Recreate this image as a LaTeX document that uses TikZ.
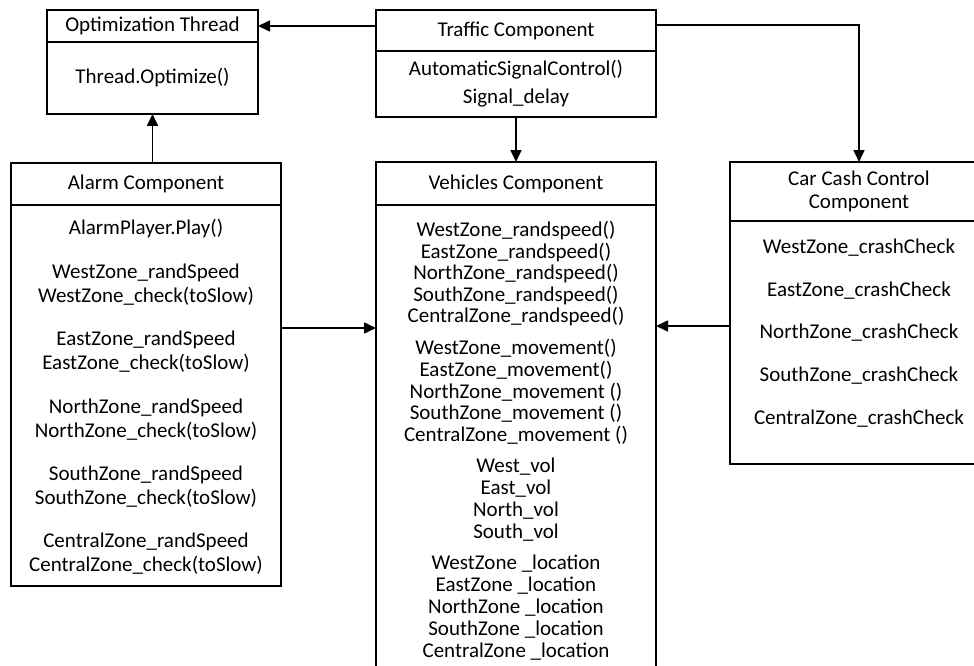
\documentclass[tikz,border=0pt]{standalone}
\usepackage{fontspec}
\setmainfont{Carlito}
\usetikzlibrary{positioning,arrows.meta}

\tikzset{
  box/.style={draw, rectangle, line width=1.5pt, inner sep=0pt, outer sep=0pt, align=center},
  txt/.style={inner sep=0pt, text height=13pt, text depth=0pt},
  arr/.style={line width=1.6pt, -{Triangle[length=12pt,width=11pt]}}
}

\begin{document}
\begin{tikzpicture}
  [x=1pt,y=-1pt,font=\fontsize{21}{24}\selectfont]
  \useasboundingbox (0,0) rectangle (974,666);

  % optimization thread
  \node (opt-h)[box, minimum width=211pt, minimum height=32pt, anchor=north west] at (47,10) {Optimization Thread};
  \node (opt-b)[box, minimum width=211pt, minimum height=72pt, below=0pt of opt-h] {Thread.Optimize()};

  % traffic
  \node (trf-h)[box, minimum width=280pt, minimum height=41pt, anchor=north west] at (376,10) {Traffic Component};
  \node (trf-b)[box, minimum width=280pt, minimum height=66pt, below=0pt of trf-h,
    font=\fontsize{21}{28}\selectfont] {AutomaticSignalControl()\\Signal\_delay};

  % alarm
  \node (alm-h)[box, minimum width=270pt, minimum height=42pt, anchor=north west] at (11,163) {Alarm Component};
  \node (alm-b)[box, minimum width=270pt, minimum height=381pt, below=0pt of alm-h] {};
  \foreach \y/\t [count=\i] in {228/AlarmPlayer.Play(),
      272/WestZone\_randSpeed, 296/WestZone\_check(toSlow),
      339/EastZone\_randSpeed, 363/EastZone\_check(toSlow),
      407/NorthZone\_randSpeed, 431/NorthZone\_check(toSlow),
      474/SouthZone\_randSpeed, 498/SouthZone\_check(toSlow),
      541/CentralZone\_randSpeed, 565/CentralZone\_check(toSlow)}
    \node (alm-\i)[txt] at (146,\y) {\t};

  % vehicles
  \node (veh-h)[box, minimum width=280pt, minimum height=43pt, anchor=north west] at (376,162) {Vehicles Component};
  \node (veh-b)[box, minimum width=280pt, minimum height=500pt, below=0pt of veh-h] {};
  \foreach \y/\t [count=\i] in {230/WestZone\_randspeed(), 251.5/EastZone\_randspeed(),
      273/NorthZone\_randspeed(), 294.5/SouthZone\_randspeed(), 316/CentralZone\_randspeed(),
      348/WestZone\_movement(), 369.5/EastZone\_movement(), 391.5/NorthZone\_movement (),
      413/SouthZone\_movement (), 435/CentralZone\_movement (),
      466/West\_vol, 488/East\_vol, 510/North\_vol, 532/South\_vol,
      563/WestZone \_location, 585/EastZone \_location, 607/NorthZone \_location,
      629/SouthZone \_location, 651/CentralZone \_location}
    \node (veh-\i)[txt] at (516,\y) {\t};

  % car crash control
  \node (crh-h)[box, minimum width=258pt, minimum height=59pt, anchor=north west,
    font=\fontsize{21}{23}\selectfont] at (730,162) {Car Cash Control\\Component};
  \node (crh-b)[box, minimum width=258pt, minimum height=243pt, below=0pt of crh-h] {};
  \foreach \y/\t [count=\i] in {247/WestZone\_crashCheck, 290/EastZone\_crashCheck,
      332/NorthZone\_crashCheck, 375/SouthZone\_crashCheck, 418/CentralZone\_crashCheck}
    \node (crh-\i)[txt] at (859,\y) {\t};

  % connectors
  \draw[arr] (trf-h.west |- opt-h.east) -- (opt-h.east);
  \draw[arr] (trf-b.south) -- (veh-h.north);
  \draw[arr] ([yshift=5.5pt]trf-h.east) -| (crh-h.north);
  \draw[arr] (alm-h.north -| opt-b.south) -- (opt-b.south);
  \draw[arr] ([yshift=67.5pt]alm-b.east) coordinate (a2v) -- (a2v -| veh-b.west);
  \draw[arr] ([yshift=16.5pt]crh-b.west) coordinate (c2v) -- (c2v -| veh-b.east);

\end{tikzpicture}
\end{document}
